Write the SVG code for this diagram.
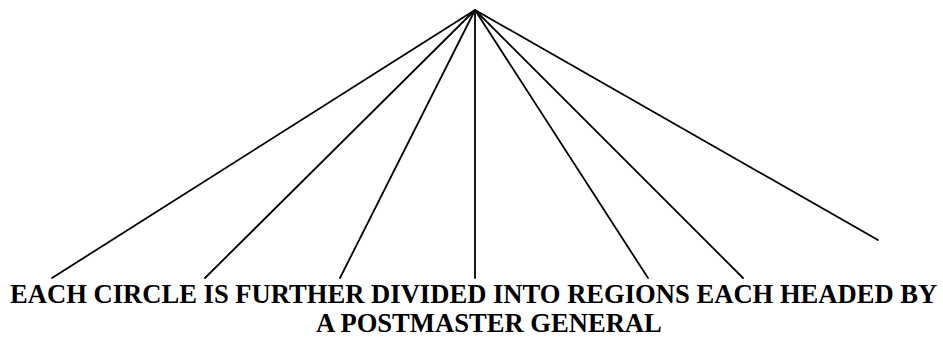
<svg xmlns="http://www.w3.org/2000/svg" width="943" height="337" viewBox="0 0 943 337">
<style>
.c{stroke:#000;stroke-width:1.8;fill:none;stroke-linecap:round}
.t{font-family:'Liberation Serif','Times New Roman','DejaVu Serif',serif;font-weight:700;font-size:26.6px;fill:#000}
</style>
<rect width="943" height="337" fill="#fff"/>
<g id="connectors">
<line class="c" x1="475" y1="10" x2="52" y2="278"/>
<line class="c" x1="475" y1="10" x2="205" y2="278"/>
<line class="c" x1="475" y1="10" x2="340" y2="278"/>
<line class="c" x1="475" y1="10" x2="475" y2="278"/>
<line class="c" x1="475" y1="10" x2="648" y2="278"/>
<line class="c" x1="475" y1="10" x2="743" y2="278"/>
<line class="c" x1="475" y1="10" x2="878" y2="240"/>
</g>
<g id="label">
<text class="t" font-family="Liberation Serif, serif" x="10" y="303">EACH CIRCLE IS FURTHER DIVIDED INTO REGIONS EACH HEADED BY</text>
<text class="t" font-family="Liberation Serif, serif" x="316" y="332">A POSTMASTER GENERAL</text>
</g>
</svg>
